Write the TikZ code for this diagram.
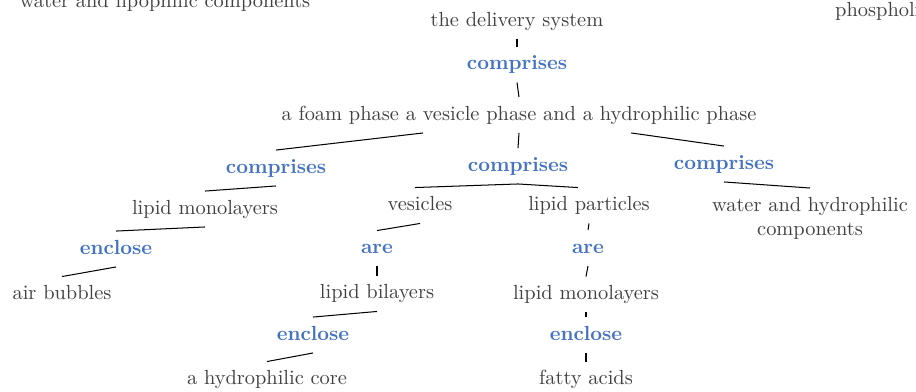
\documentclass[tikz,border=0pt]{standalone}
\usepackage{xcolor}
\usepackage{tikz}

\definecolor{txtgray}{HTML}{404040}
\definecolor{linkblue}{HTML}{4472C4}

\begin{document}
\begin{tikzpicture}[x=0.49pt, y=-0.49pt,
concept/.style={text=txtgray, text height=6.9pt, text depth=1.9pt, inner ysep=4.2pt},
linkword/.style={concept, text=linkblue, font=\bfseries},
link/.style={line width=0.5pt}
]
\useasboundingbox (0,0) rectangle (916,391);

% Top row, cut at the picture edges
\node[concept, anchor=base] (lipo) at (165,7) {water and lipophilic components};
\node[concept, anchor=base west] (phos) at (828,16) {phospholipids};

% Root
\node[concept] (deliv) at (517,21.5) {the delivery system};
\node[linkword] (comp) at (517,64.5) {comprises};
\node[concept] (phases) at (519,115) {a foam phase a vesicle phase and a hydrophilic phase};

% Second level
\node[linkword] (compfoam) at (276,168) {comprises};
\node[linkword] (compves) at (518,166) {comprises};
\node[linkword] (comphyd) at (724,164) {comprises};

\node[concept] (monoL) at (205,209) {lipid monolayers};
\node[concept] (ves) at (420,205.5) {vesicles};
\node[concept] (lpart) at (589,205.5) {lipid particles};
\node[text=txtgray, align=center, inner ysep=4.2pt, anchor=north] (water) at (810,188) {water and hydrophilic\\components};

% Third level
\node[linkword] (enclL) at (116,249) {enclose};
\node[linkword] (areV) at (377,248.5) {are};
\node[linkword] (areP) at (588,248) {are};

\node[concept] (air) at (62,294.5) {air bubbles};
\node[concept] (bil) at (377,293.5) {lipid bilayers};
\node[concept] (monoM) at (586,294.5) {lipid monolayers};

% Bottom row
\node[linkword] (enclB) at (313,335) {enclose};
\node[linkword] (enclM) at (586,335) {enclose};

\node[concept] (core) at (267,379.5) {a hydrophilic core};
\node[concept] (fatty) at (586,379.5) {fatty acids};

% Links
\draw[link] (deliv.south) -- (comp.north);
\draw[link] (comp.south) -- (phases.north);
\draw[link] ([xshift=-47pt]phases.south) -- (compfoam.north);
\draw[link] (phases.south) -- (compves.north);
\draw[link] ([xshift=55pt]phases.south) -- (comphyd.north);
\draw[link] (compfoam.south) -- (monoL.north);
\draw[link] (compves.south) -- ([xshift=-2.5pt]ves.north);
\draw[link] (compves.south) -- ([xshift=-5.5pt]lpart.north);
\draw[link] (comphyd.south) -- (water.north);
\draw[link] (monoL.south) -- (enclL.north);
\draw[link] (enclL.south) -- (air.north);
\draw[link] (ves.south) -- (areV.north);
\draw[link] (areV.south) -- (bil.north);
\draw[link] (bil.south) -- (enclB.north);
\draw[link] (enclB.south) -- (core.north);
\draw[link] (lpart.south) -- (areP.north);
\draw[link] (areP.south) -- (monoM.north);
\draw[link] (monoM.south) -- (enclM.north);
\draw[link] (enclM.south) -- (fatty.north);
\end{tikzpicture}
\end{document}
